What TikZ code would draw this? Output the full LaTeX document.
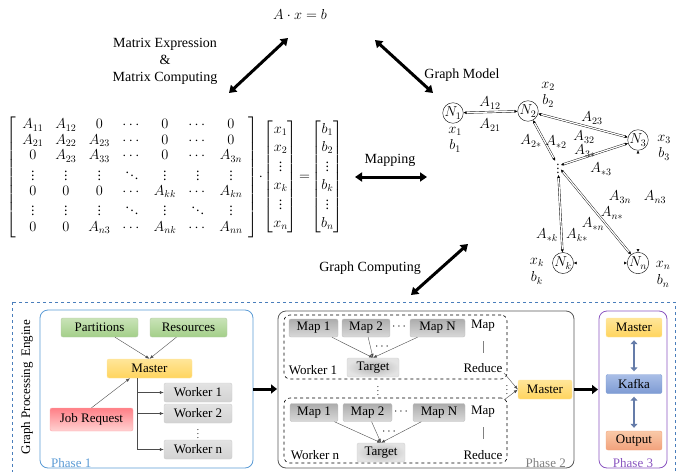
\documentclass[tikz,border=0pt]{standalone}
\usepackage{amsmath}
\usepackage{fontspec}
\setmainfont{Liberation Serif}
\usetikzlibrary{arrows.meta,positioning}

\definecolor{grnTop}{HTML}{C9E3B8}
\definecolor{grnBot}{HTML}{A3CF88}
\definecolor{ylwTop}{HTML}{FFE699}
\definecolor{ylwBot}{HTML}{FFD45E}
\definecolor{redTop}{HTML}{FF7F86}
\definecolor{redBot}{HTML}{FFD2D2}
\definecolor{kafTop}{HTML}{A9BEE6}
\definecolor{kafBot}{HTML}{7E9BD3}
\definecolor{outTop}{HTML}{F9C9A8}
\definecolor{outBot}{HTML}{F2A27C}
\definecolor{phOne}{HTML}{5B9BD5}
\definecolor{phThree}{HTML}{8A55C0}
\definecolor{engine}{HTML}{4A7EBB}

\newcommand{\sv}{{\scriptstyle\vdots}}
\newcommand{\sd}{{\scriptstyle\ddots}}

\begin{document}
\begin{tikzpicture}[x=1pt,y=-1pt,
    every node/.style={font=\fontsize{13}{15}\selectfont},
    big/.style={font=\fontsize{14}{17}\selectfont},
    mth/.style={inner sep=0pt,font=\fontsize{14}{15}\selectfont},
    tiny dots/.style={inner sep=0pt,font=\fontsize{9}{9}\selectfont},
    bigarrow/.style={line width=3pt,{Triangle[length=7pt,width=9pt]}-{Triangle[length=7pt,width=9pt]}},
    gnode/.style={circle,draw,minimum size=20pt,inner sep=0pt,font=\fontsize{14}{14}\selectfont},
    link/.style={double,double distance=1.3pt,thin,{Latex[length=3pt,width=3pt]}-{Latex[length=3pt,width=3pt]}},
    box/.style={draw,rounded corners=2pt,minimum height=19pt,inner sep=1pt},
    greenbox/.style={box,top color=grnTop,bottom color=grnBot,draw=grnBot!80!black!60},
    yellowbox/.style={box,top color=ylwTop,bottom color=ylwBot,draw=ylwBot!60},
    redbox/.style={box,top color=redTop,bottom color=redBot,draw=redTop!70},
    workerbox/.style={box,top color=gray!22,bottom color=gray!35,draw=gray!40,minimum width=68pt},
    mapbox/.style={box,top color=gray!65,bottom color=gray!30,draw=gray!50,minimum height=18pt},
    targetbox/.style={box,inner color=gray!60,outer color=gray!22,draw=gray!35},
    kafkabox/.style={box,top color=kafTop,bottom color=kafBot,draw=kafBot,minimum width=56pt},
    outputbox/.style={box,top color=outTop,bottom color=outBot,draw=outBot,minimum width=56pt},
    phase/.style={draw,rounded corners=8pt,line width=0.8pt},
    group/.style={draw,dashed,rounded corners=6pt,line width=0.6pt},
    flow/.style={draw=black!70,-{Latex[length=4pt,width=3pt]}},
    fatarrow/.style={line width=3pt,-{Triangle[length=6pt,width=9pt]}},
    bluearrow/.style={line width=2.5pt,draw=kafBot!80!black,{Triangle[length=4pt,width=7pt]}-{Triangle[length=4pt,width=7pt]}}]

    \useasboundingbox (0,0) rectangle (685,471);

    % Top: equation and its two views
    \node[big] (eqn) at (300,14) {$A\cdot x=b$};
    \node[big,align=center] (mexp) at (165,61) {Matrix Expression\\\&\\Matrix Computing};
    \node[big] (gmod) at (462,75) {Graph Model};
    \coordinate (ml) at (229,93);
    \coordinate (mt) at (288,38);
    \coordinate (gt) at (375,40);
    \coordinate (gl) at (433,93);
    \draw[bigarrow] (ml) -- (mt);
    \draw[bigarrow] (gt) -- (gl);

    % Matrix form
    \node[font=\fontsize{14}{14.5}\selectfont] (mat) at (175,177) {$\renewcommand{\arraystretch}{1.07}\setlength{\arraycolsep}{6pt}
        \left[\begin{array}{ccccccc}
        A_{11} & A_{12} & 0 & \cdots & 0 & \cdots & 0\\
        A_{21} & A_{22} & A_{23} & \cdots & 0 & \cdots & 0\\
        0 & A_{23} & A_{33} & \cdots & 0 & \cdots & A_{3n}\\
        \sv & \sv & \sv & \sd & \sv & \sv & \sv\\
        0 & 0 & 0 & \cdots & A_{kk} & \cdots & A_{kn}\\
        \sv & \sv & \sv & \sd & \sv & \sd & \sv\\
        0 & 0 & A_{n3} & \cdots & A_{nk} & \cdots & A_{nn}
        \end{array}\right]\!\cdot\!
        {\renewcommand{\arraystretch}{1.2}\begin{bmatrix}x_1\\x_2\\\sv\\x_k\\\sv\\x_n\end{bmatrix}}\!=\!
        {\renewcommand{\arraystretch}{1.2}\begin{bmatrix}b_1\\b_2\\\sv\\b_k\\\sv\\b_n\end{bmatrix}}$};

    % Mapping
    \coordinate (mapa) at (355,177);
    \coordinate (mapb) at (427,177);
    \draw[bigarrow] (mapa) -- (mapb);
    \node[big] (mapping) at (390,160) {Mapping};

    % Graph model
    \node[gnode] (n1) at (453,113) {$N_1$};
    \node[gnode] (n2) at (528,111) {$N_2$};
    \node[gnode] (n3) at (638,140) {$N_3$};
    \node[inner sep=1pt] (nd) at (558,166) {$\vdots$};
    \node[gnode] (nk) at (563,263) {$N_k$};
    \node[gnode] (nn) at (638,263) {$N_n$};

    \draw[link] (n1) -- (n2);
    \draw[link] (n2) -- (n3);
    \draw[link] (n2) -- (nd);
    \draw[link] (n3) -- (nd);
    \draw[link] (nd) -- (nk);
    \draw[link] (nd) -- (nn);
    \draw[link] (n3) -- (nn);
    \draw[link] (nk) -- (nn);

    \node[mth] (x1) at (455,131) {$x_1$};
    \node[mth] (b1) at (455,146) {$b_1$};
    \node[mth] (x2) at (548,86) {$x_2$};
    \node[mth] (b2) at (548,101) {$b_2$};
    \node[mth] (x3) at (664,139) {$x_3$};
    \node[mth] (b3) at (664,154) {$b_3$};
    \node[mth] (xk) at (537,262) {$x_k$};
    \node[mth] (bk) at (537,278) {$b_k$};
    \node[mth] (xn) at (663,265) {$x_n$};
    \node[mth] (bn) at (663,281) {$b_n$};

    \node[mth] (a12) at (490,103) {$A_{12}$};
    \node[mth] (a21) at (490,125) {$A_{21}$};
    \node[mth] (a23) at (592,118) {$A_{23}$};
    \node[mth] (a32) at (584,137) {$A_{32}$};
    \node[mth] (a3s) at (585,151) {$A_{3*}$};
    \node[mth] (as3) at (601,169) {$A_{*3}$};
    \node[mth] (a2s) at (531,141) {$A_{2*}$};
    \node[mth] (as2) at (556,142) {$A_{*2}$};
    \node[mth] (a3n) at (620,197) {$A_{3n}$};
    \node[mth] (an3) at (655,197) {$A_{n3}$};
    \node[mth] (ans) at (612,213) {$A_{n*}$};
    \node[mth] (asn) at (593,224) {$A_{*n}$};
    \node[mth] (ask) at (547,235) {$A_{*k}$};
    \node[mth] (aks) at (577,235) {$A_{k*}$};

    % Graph computing
    \coordinate (gca) at (411,295);
    \coordinate (gcb) at (468,244);
    \draw[bigarrow] (gca) -- (gcb);
    \node[big] (gcomp) at (370,268) {Graph Computing};

    % Graph processing engine
    \draw[engine,dashed,line width=0.8pt] (12,302) rectangle (675,472);
    \node[rotate=90] (gpe) at (27,387) {Graph Processing\, Engine};

    % Phase 1
    \node[phase,draw=phOne,minimum width=213pt,minimum height=158pt] (ph1) at (146.5,389) {};
    \node[anchor=south west,text=phOne,inner sep=1pt] (ph1lbl) at (50,469) {Phase 1};
    \node[greenbox,minimum width=77pt] (part) at (99.5,327.5) {Partitions};
    \node[greenbox,minimum width=77pt] (res) at (188.5,327.5) {Resources};
    \node[yellowbox,minimum width=85pt] (mst1) at (149.5,368.5) {Master};
    \node[redbox,minimum width=83pt,minimum height=23pt] (job) at (91.5,419.5) {Job Request};
    \node[workerbox] (w1) at (198,392.5) {Worker 1};
    \node[workerbox] (w2) at (198,413.5) {Worker 2};
    \node[tiny dots] (wdots) at (198,431) {$\vdots$};
    \node[workerbox] (wn) at (198,449.5) {Worker n};

    \draw[flow] (part) -- (mst1.north);
    \draw[flow] (res) -- (mst1.north);
    \draw[flow] (job.north) -- (mst1.south west -| 130,0);
    \coordinate (split) at (137,378);
    \draw[draw=black!70] (split) -- (137,449.5);
    \draw[flow] (137,392.5) -- (w1.west);
    \draw[flow] (137,413.5) -- (w2.west);
    \draw[flow] (137,449.5) -- (wn.west);

    \draw[fatarrow] (ph1.east) -- (277,389);

    % Phase 2
    \node[phase,draw=gray!70!black,minimum width=296pt,minimum height=157pt] (ph2) at (426,389.5) {};
    \node[anchor=south east,text=gray,inner sep=1pt] (ph2lbl) at (567,469) {Phase 2};
    \node[group,minimum width=223pt,minimum height=64pt] (grp1) at (395.5,347) {};
    \node[group,minimum width=223pt,minimum height=65pt] (grpn) at (395.5,430.5) {};

    \node[mapbox,minimum width=49pt] (m11) at (313.5,328) {Map 1};
    \node[mapbox,minimum width=48pt] (m12) at (366,328) {Map 2};
    \node[inner sep=0pt] (m1d) at (400,327) {$\cdots$};
    \node[mapbox,minimum width=55pt] (m1n) at (437.5,328) {Map N};
    \node[targetbox,minimum width=52pt] (tg1) at (373,367.5) {Target};
    \node[inner sep=0pt] (tg1d) at (383,347) {$\cdots$};
    \node (mp1) at (483,326) {Map};
    \draw[gray] (483,341) -- (483,353);
    \node (rd1) at (483,368) {Reduce};
    \node (wk1) at (313,370) {Worker 1};
    \draw[flow] (m11) -- (tg1.north);
    \draw[flow] (m12) -- (tg1.north);
    \draw[flow] (m1n) -- (tg1.north);

    \node[tiny dots] (gdots) at (378,388) {$\vdots$};

    \node[mapbox,minimum width=48pt] (mn1) at (314,412.5) {Map 1};
    \node[mapbox,minimum width=49pt] (mn2) at (367.5,412.5) {Map 2};
    \node[inner sep=0pt] (mnd) at (402,411.5) {$\cdots$};
    \node[mapbox,minimum width=52pt] (mnn) at (439,412.5) {Map N};
    \node[targetbox,minimum width=48pt] (tgn) at (381,452.5) {Target};
    \node[inner sep=0pt] (tgnd) at (390,432) {$\cdots$};
    \node (mpn) at (483,412) {Map};
    \draw[gray] (483,427) -- (483,439);
    \node (rdn) at (483,455) {Reduce};
    \node (wkn) at (315,455) {Worker n};
    \draw[flow] (mn1) -- (tgn.north);
    \draw[flow] (mn2) -- (tgn.north);
    \draw[flow] (mnn) -- (tgn.north);

    \node[yellowbox,minimum width=54pt] (mst2) at (545,389.5) {Master};
    \coordinate (g1e) at (504,373);
    \coordinate (gne) at (504,400);
    \draw[flow] (g1e) -- (mst2.west);
    \draw[flow] (gne) -- (mst2.west);
    \node[tiny dots] (rdots) at (507,387) {$\vdots$};

    \draw[fatarrow] (ph2.east) -- (598,389.5);

    % Phase 3
    \node[phase,draw=phThree,minimum width=68pt,minimum height=157pt] (ph3) at (633,389.5) {};
    \node[anchor=south,text=phThree,inner sep=1pt] (ph3lbl) at (633,469) {Phase 3};
    \node[yellowbox,minimum width=56pt] (mst3) at (634,327.5) {Master};
    \node[kafkabox] (kafka) at (634,384) {Kafka};
    \node[outputbox] (out) at (634,440.5) {Output};
    \draw[bluearrow,shorten <=3pt,shorten >=3pt] (mst3) -- (kafka);
    \draw[bluearrow,shorten <=3pt,shorten >=3pt] (kafka) -- (out);

\end{tikzpicture}
\end{document}
